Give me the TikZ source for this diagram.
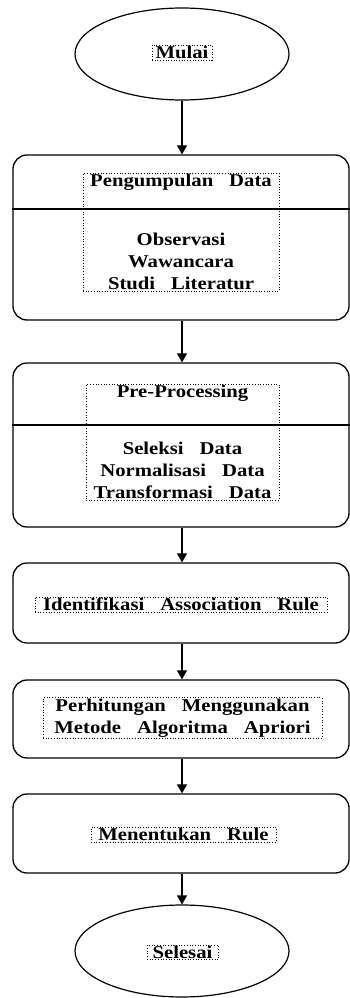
\documentclass[tikz,border=0pt]{standalone}
\usepackage{fontspec}
\newfontfamily\flowfont[FakeStretch=1.15]{Liberation Serif}
\usetikzlibrary{shapes.geometric,arrows.meta}
\tikzset{
  terminal/.style={draw, ellipse, line width=1.2pt, minimum width=214pt, minimum height=92pt, inner sep=0pt},
  process/.style={draw, rounded corners=14pt, line width=1.3pt, minimum width=336pt, inner sep=0pt},
  txtbox/.style={draw, dotted, line width=0.7pt, inner xsep=2pt, inner ysep=1pt, align=center,
    font={\flowfont\bfseries\fontsize{18pt}{22pt}\selectfont\spaceskip=16pt\relax}},
  flow/.style={line width=1.2pt, -{Triangle[length=9pt,width=10pt]}}
}

\begin{document}
\begin{tikzpicture}[x=1pt, y=-1pt]
			%%%%% START %%%%%
			\useasboundingbox (0, 0) rectangle (349, 998);
			
			% mulai
			\node[terminal] (mulai) at (182, 54) {};
			\node[txtbox, minimum width=60pt] (mulaitxt) at (182, 52.5) {Mulai};
			
			% pengumpulan data
			\node[process, minimum height=165pt] (kumpul) at (181, 237.5) {};
			\coordinate (kumpulsplit) at (181, 209);
			\draw[line width=1.3pt] (kumpul.west |- kumpulsplit) -- (kumpul.east |- kumpulsplit);
			\node[txtbox, minimum width=196pt, anchor=north] (kumpultxt) at (181, 173)
				{Pengumpulan Data\\[37pt]Observasi\\Wawancara\\Studi Literatur};
			
			% pre-processing
			\node[process, minimum height=164pt] (proses) at (181, 445) {};
			\coordinate (prosessplit) at (181, 425);
			\draw[line width=1.3pt] (proses.west |- prosessplit) -- (proses.east |- prosessplit);
			\node[txtbox, minimum width=193pt, anchor=north] (prosestxt) at (182.5, 384)
				{Pre-Processing\\[35pt]Seleksi Data\\Normalisasi Data\\Transformasi Data};
			
			% identifikasi
			\node[process, minimum height=80pt] (identifikasi) at (181, 603) {};
			\node[txtbox, minimum width=292pt] (identifikasitxt) at (181, 604.5) {Identifikasi Association Rule};
			
			% perhitungan
			\node[process, minimum height=78pt] (hitung) at (181, 719) {};
			\node[txtbox, minimum width=279pt] (hitungtxt) at (182.5, 718)
				{Perhitungan Menggunakan\\Metode Algoritma Apriori};
			
			% menentukan rule
			\node[process, minimum height=79pt] (rule) at (181, 833.5) {};
			\node[txtbox, minimum width=185pt] (ruletxt) at (183.5, 834.5) {Menentukan Rule};
			
			% selesai
			\node[terminal] (selesai) at (182, 951) {};
			\node[txtbox, minimum width=71pt] (selesaitxt) at (182.5, 952.5) {Selesai};
			
			% arrows
			\draw[flow] (mulai.south) -- (mulai.south |- kumpul.north);
			\draw[flow] (mulai.south |- kumpul.south) -- (mulai.south |- proses.north);
			\draw[flow] (mulai.south |- proses.south) -- (mulai.south |- identifikasi.north);
			\draw[flow] (mulai.south |- identifikasi.south) -- (mulai.south |- hitung.north);
			\draw[flow] (mulai.south |- hitung.south) -- (mulai.south |- rule.north);
			\draw[flow] (mulai.south |- rule.south) -- (selesai.north);
			
			%%%%% END %%%%%
\end{tikzpicture}
\end{document}
